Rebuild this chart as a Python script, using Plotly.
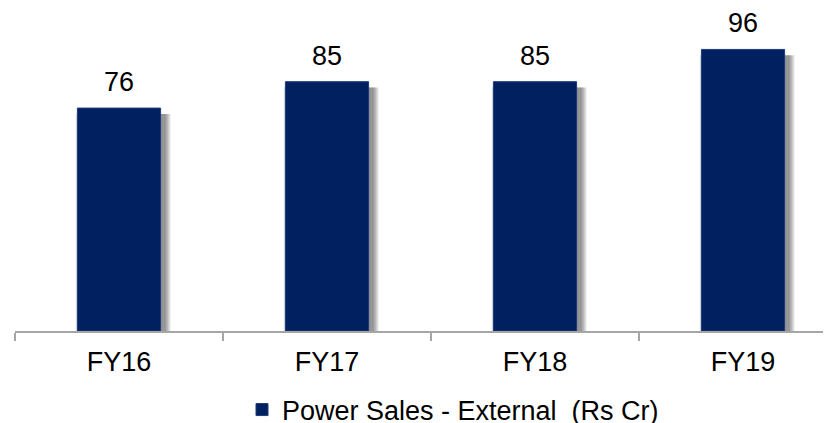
import plotly.graph_objects as go

categories = ["FY16", "FY17", "FY18", "FY19"]
values = [76, 85, 85, 96]
series_name = "Power Sales - External  (Rs Cr)"

BAR_COLOR = "#002060"
FONT = "Liberation Sans, Arial, sans-serif"
BAR_W = 0.4

# page body has an 8px margin; size the figure to fit the 831x423 window
OFF = 8
FIG_W, FIG_H = 831 - OFF, 423 - OFF
AXIS_Y = 331           # page y of the category axis
PLOT_H = AXIS_Y - OFF  # plot top at page y = OFF
PX_PER_UNIT = 2.933
px_per_cat = 208.0
plot_w = 831 - 15

fig = go.Figure()

# soft drop shadow layers
for k in range(1, 10):
    w = BAR_W + 0.0065 * k
    fig.add_trace(go.Bar(
        x=categories, y=[v - 0.8 for v in values], base=-1.2,
        width=w, offset=-w / 2 + 0.02,
        marker=dict(color="rgba(0,0,0,0.055)", line=dict(width=0)),
        showlegend=False, hoverinfo="skip", cliponaxis=False,
    ))

fig.add_trace(go.Bar(
    x=categories, y=values, name=series_name,
    width=BAR_W,
    marker=dict(color=BAR_COLOR, line=dict(color="#1d3a7a", width=1)),
    showlegend=True,
))

for c, v in zip(categories, values):
    fig.add_annotation(x=c, y=v, text=str(v), showarrow=False,
                       yshift=26, yanchor="middle",
                       font=dict(family=FONT, size=27, color="#000000"))

fig.update_layout(
    width=FIG_W, height=FIG_H,
    margin=dict(l=15 - OFF, r=0, t=0, b=FIG_H - PLOT_H, autoexpand=False),
    paper_bgcolor="white", plot_bgcolor="white",
    barmode="overlay",
    font=dict(family=FONT, size=27, color="#000000"),
    xaxis=dict(
        type="category", range=[-0.5, -0.5 + plot_w / px_per_cat],
        showline=True, linecolor="#a6a6a6", linewidth=1.5,
        ticks="outside", tickson="boundaries", ticklen=8, tickwidth=1.5,
        tickcolor="#a6a6a6", showgrid=False, ticklabelstandoff=6,
        tickfont=dict(family=FONT, size=27, color="#000000"),
        automargin=False,
    ),
    yaxis=dict(range=[0, PLOT_H / PX_PER_UNIT], visible=False, showgrid=False,
               zeroline=False, automargin=False),
    legend=dict(orientation="h", x=0.5 + 30 / plot_w, xanchor="center",
                y=-79 / PLOT_H, yanchor="middle",
                font=dict(family=FONT, size=27, color="#000000"),
                itemwidth=30, bgcolor="rgba(0,0,0,0)"),
    showlegend=True,
)

fig.write_html("out.html")
